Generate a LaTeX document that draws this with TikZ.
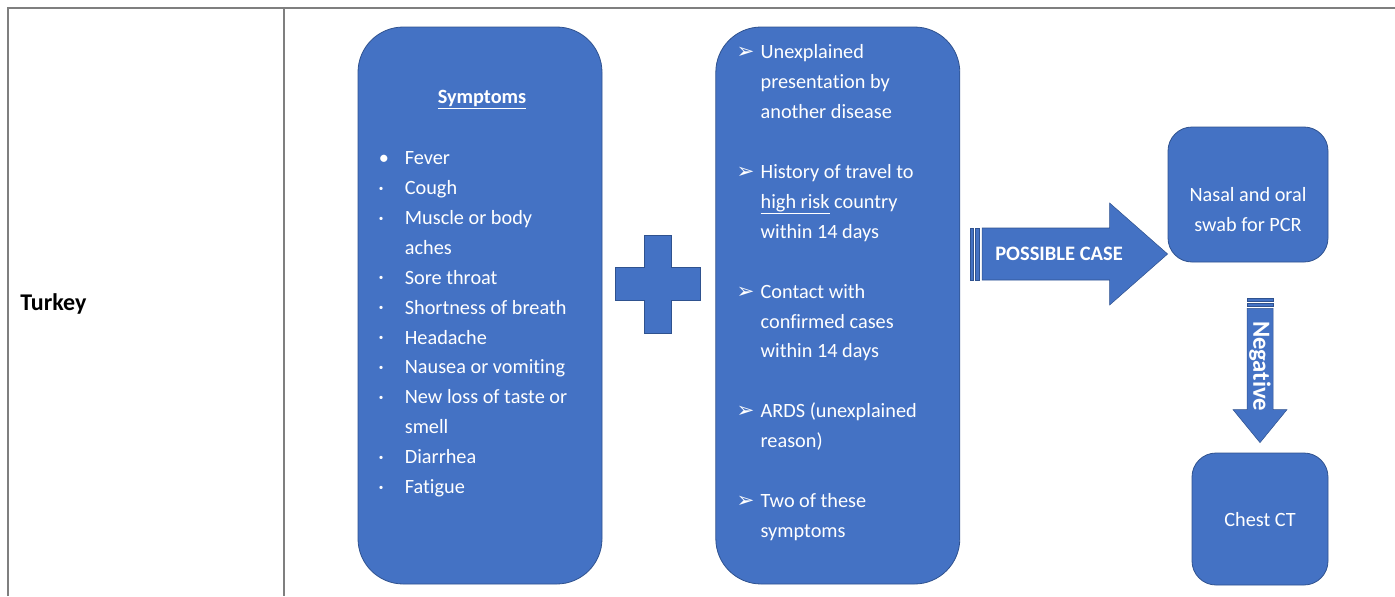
\documentclass[tikz,border=0pt]{standalone}
\usepackage{fontspec}
\setmainfont{Carlito}[Ligatures=NoCommon]
\newfontfamily\dingfont{DejaVu Sans}
\usepackage{graphicx}
\usetikzlibrary{positioning, calc}
\definecolor{fillblue}{HTML}{4472C4}
\definecolor{edgeblue}{HTML}{2F528F}
\definecolor{rulegray}{HTML}{7F7F7F}

\tikzset{
  bigbox/.style={draw=edgeblue, fill=fillblue, line width=0.6pt, rounded corners=34pt,
    minimum width=183pt, minimum height=417.75pt, inner sep=0pt},
  smallbox/.style={draw=edgeblue, fill=fillblue, line width=0.6pt, rounded corners=18pt,
    inner sep=0pt},
  boxtext/.style={text=white, align=center, font=\fontsize{15.2}{22.4}\selectfont, inner sep=0pt},
  listtext/.style={text=white, align=left, font=\fontsize{15.2}{22.4}\selectfont, inner sep=0pt},
  arrowtext/.style={text=white, font=\bfseries\fontsize{15.4}{18}\selectfont, inner sep=0pt},
  blockarrow/.style={fill=fillblue, draw=edgeblue, line width=0.4pt},
  tablerule/.style={draw=rulegray, line width=0.8pt}
}
\newcommand{\bigdot}{\makebox[19.5pt][l]{\textbullet}}
\newcommand{\smalldot}{\makebox[19.5pt][l]{\raisebox{.35ex}{\scalebox{.45}{\textbullet}}}}
\newcommand{\arrowbul}{\makebox[18pt][l]{\dingfont\fontsize{16}{16}\selectfont ➢}}
\newcommand{\hang}[1]{\hspace*{#1}}

\begin{document}
\begin{tikzpicture}[x=0.75pt, y=-0.75pt]
  \useasboundingbox (0,0) rectangle (1395,596);
  % table
  \draw[tablerule] (8,596) -- (8,8) -- (1395,8);
  \draw[tablerule] (284,8) -- (284,596);
  \node[anchor=west, inner sep=0pt, font=\bfseries\fontsize{18}{20}\selectfont] (country) at (20,304) {Turkey};

  % boxes
  \node[bigbox] (sym) at (480,305.5) {};
  \node[bigbox, right=84.75pt of sym] (crit) {};
  \node[smallbox, minimum width=120pt, minimum height=101.25pt] (swab) at (1248,194.5) {};
  \node[smallbox, minimum width=102pt, minimum height=99pt] (ct) at (1260,519) {};

  \node[boxtext, font=\bfseries\fontsize{15.2}{18}\selectfont] (symtitle)
    at ($(sym.north)+(2,73)$) {\underline{Symptoms}};
  \node[listtext, anchor=north west] (symlist) at ($(sym.north west)+(21,125)$) {%
    \bigdot Fever\\
    \smalldot Cough\\
    \smalldot Muscle or body\\
    \hang{19.5pt}aches\\
    \smalldot Sore throat\\
    \smalldot Shortness of breath\\
    \smalldot Headache\\
    \smalldot Nausea or vomiting\\
    \smalldot New loss of taste or\\
    \hang{19.5pt}smell\\
    \smalldot Diarrhea\\
    \smalldot Fatigue};
  \node[listtext, anchor=north west] (critlist) at ($(crit.north west)+(21,18)$) {%
    \arrowbul Unexplained\\
    \hang{18pt}presentation by\\
    \hang{18pt}another disease\\[22.5pt]
    \arrowbul History of travel to\\
    \hang{18pt}\underline{high\ risk} country\\
    \hang{18pt}within 14 days\\[22.5pt]
    \arrowbul Contact with\\
    \hang{18pt}confirmed cases\\
    \hang{18pt}within 14 days\\[22.5pt]
    \arrowbul ARDS (unexplained\\
    \hang{18pt}reason)\\[22.5pt]
    \arrowbul Two of these\\
    \hang{18pt}symptoms};
  \node[boxtext] (swabtext) at ($(swab.center)+(0,15)$) {Nasal and oral\\swab for PCR};
  \node[boxtext] (cttext) at ($(ct.center)+(0,1)$) {Chest CT};

  % plus sign
  \coordinate (plus) at ($(sym.east)!0.5!(crit.west)+(-1,-21.5)$);
  \fill[blockarrow] ($(plus)+(-13.5,-49)$) -- ($(plus)+(13.5,-49)$) -- ($(plus)+(13.5,-17)$)
    -- ($(plus)+(42.5,-17)$) -- ($(plus)+(42.5,16)$) -- ($(plus)+(13.5,16)$)
    -- ($(plus)+(13.5,49)$) -- ($(plus)+(-13.5,49)$) -- ($(plus)+(-13.5,16)$)
    -- ($(plus)+(-42.5,16)$) -- ($(plus)+(-42.5,-17)$) -- ($(plus)+(-13.5,-17)$) -- cycle;

  % possible case arrow
  \coordinate (pcA) at ($(crit.east)+(10,-51.5)$);
  \coordinate (pcB) at (swab.west |- pcA);
  \fill[blockarrow] ($(pcA)+(0,-26)$) rectangle ($(pcA)+(3,26)$);
  \fill[blockarrow] ($(pcA)+(5,-26)$) rectangle ($(pcA)+(9,26)$);
  \fill[blockarrow] ($(pcA)+(12,-26)$) -- ($(pcB)+(-58,-26)$) -- ($(pcB)+(-58,-51)$) -- (pcB)
    -- ($(pcB)+(-58,51)$) -- ($(pcB)+(-58,26)$) -- ($(pcA)+(12,26)$) -- cycle;
  \node[arrowtext] (pctext) at ($(pcA)!0.45!(pcB)$) {POSSIBLE CASE};

  % negative arrow
  \coordinate (ngA) at ($(ct.north |- swab.south)+(0,36)$);
  \coordinate (ngB) at ($(ct.north)+(0,-10)$);
  \fill[blockarrow] ($(ngA)+(-13,0)$) rectangle ($(ngA)+(13,3)$);
  \fill[blockarrow] ($(ngA)+(-13,5)$) rectangle ($(ngA)+(13,8)$);
  \fill[blockarrow] ($(ngA)+(-13,10)$) -- ($(ngB)+(-13,-33)$) -- ($(ngB)+(-27,-33)$) -- (ngB)
    -- ($(ngB)+(27,-33)$) -- ($(ngB)+(13,-33)$) -- ($(ngA)+(13,10)$) -- cycle;
  \node[arrowtext, rotate=-90, font=\bfseries\fontsize{18.5}{20}\selectfont] (ngtext)
    at ($(ngA)!0.47!(ngB)$) {Negative};
\end{tikzpicture}
\end{document}
